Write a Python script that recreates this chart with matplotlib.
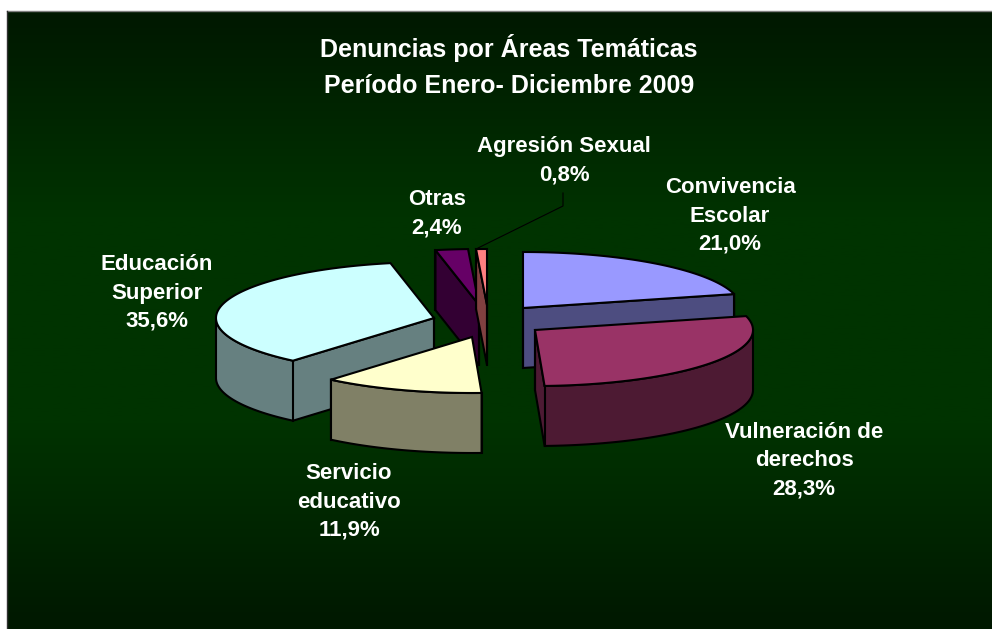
import numpy as np
import matplotlib
matplotlib.use("Agg")
import matplotlib.pyplot as plt
from matplotlib.colors import LinearSegmentedColormap
from matplotlib.patches import Polygon

plt.rcParams['font.family'] = ['Liberation Sans', 'DejaVu Sans']

# --- Data
categories = ["Convivencia\nEscolar", "Vulneración de\nderechos", "Servicio\neducativo",
              "Educación\nSuperior", "Otras", "Agresión Sexual"]
shares = [21.0, 28.3, 11.9, 35.6, 2.4, 0.8]
top_colors = ["#9999FF", "#993366", "#FFFFCC", "#CCFFFF", "#660066", "#FF8080"]
side_colors = ["#4D4D80", "#4D1A33", "#808066", "#668080", "#330033", "#804040"]
title_lines = "Denuncias por Áreas Temáticas\nPeríodo Enero- Diciembre 2009"

# --- Layout, in pixels of the 992x629 canvas
apex = [(523, 308), (535, 330), (472, 337), (434, 318), (479, 305), (487, 305)]
label_pos = [(730, 216), (804, 461), (349, 502), (157, 293), (437, 214), (564, 161)]
draw_order = [0, 4, 5, 3, 1, 2]
rx, ry, depth = 218, 56, 60
edge_lw = 1.5


def rim(cx, cy, a0, a1):
    t = np.radians(np.linspace(a0, a1, max(int(a1 - a0) * 2, 2)))
    return np.column_stack([cx + rx * np.sin(t), cy - ry * np.cos(t)])


def draw_slice(ax, z, cx, cy, a0, a1, top, side):
    outline = np.vstack([[(cx, cy)], rim(cx, cy, a0, a1)])
    closed = np.vstack([outline, outline[:1]])
    # only edges running leftwards on screen face the viewer
    leftwards = closed[1:, 0] < closed[:-1, 0]
    if leftwards.any():
        ends = np.vstack([closed[:-1][leftwards], closed[1:][leftwards][-1:]])
        shell = np.vstack([ends, ends[::-1] + (0, depth)])
        ax.add_patch(Polygon(shell, fc=side, ec="black", lw=edge_lw, zorder=z))
    # vertical edges at the corners next to a visible face
    first, last = outline[1], outline[-1]
    corners = []
    if leftwards[0] or leftwards[-1]:
        corners.append((cx, cy))
    if leftwards[0] or 90 <= a0 < 270:
        corners.append(first)
    if leftwards[-1] or 90 < a1 <= 270:
        corners.append(last)
    for x, y in corners:
        ax.plot([x, x], [y, y + depth], color="black", lw=edge_lw, zorder=z)
    ax.add_patch(Polygon(outline, fc=top, ec="black", lw=edge_lw, zorder=z + 0.5))


fig = plt.figure(figsize=(9.92, 6.29), dpi=100, facecolor="white")
ax = fig.add_axes([0, 0, 1, 1])
ax.axis("off")

# --- Background
bg = LinearSegmentedColormap.from_list("bg", ["#001800", "#003300", "#003300", "#001800"])
ax.imshow(np.linspace(0, 1, 256).reshape(-1, 1), cmap=bg, extent=[7, 992, 629, 11],
          aspect="auto", zorder=0)
ax.set_xlim(0, 992)
ax.set_ylim(629, 0)
ax.plot([7, 992], [11, 11], color="#808080", lw=1, zorder=1)
ax.plot([7, 7], [11, 629], color="#303030", lw=1, zorder=1)

# --- Slices, clockwise from the top
edges = np.concatenate([[0], np.cumsum(shares)]) / np.sum(shares) * 360
for z, i in enumerate(draw_order):
    draw_slice(ax, 3 + z, apex[i][0], apex[i][1], edges[i], edges[i + 1], top_colors[i], side_colors[i])

# --- Leader line for the smallest slice
ax.plot([563, 563, 478], [193, 206, 248], color="black", lw=0.8, zorder=2)

# --- Texts
ax.text(509, 66, title_lines, color="white", fontsize=18, fontweight="bold",
        ha="center", va="center", linespacing=1.62, zorder=30)
for cat, share, pos in zip(categories, shares, label_pos):
    txt = f"{cat}\n{share:.1f}%".replace(".", ",")
    ax.text(pos[0], pos[1], txt, color="white", fontsize=16, fontweight="bold",
            ha="center", va="center", linespacing=1.45, zorder=30)

fig.savefig("out.png", dpi=100, facecolor="white")
